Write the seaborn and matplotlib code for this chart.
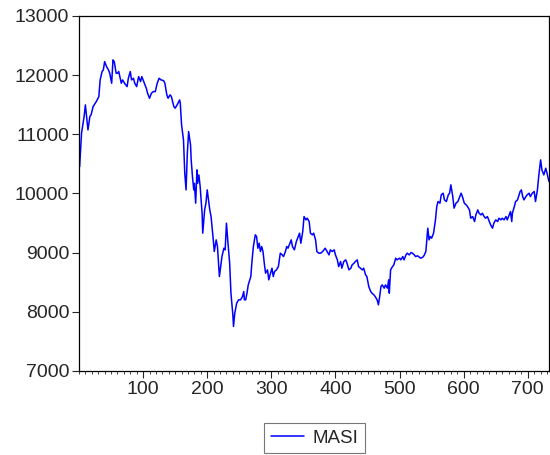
import numpy as np
import pandas as pd
import matplotlib
matplotlib.use("Agg")
import matplotlib.pyplot as plt
from matplotlib.ticker import MultipleLocator
import seaborn as sns

# Observation numbers and MASI index levels
obs = [1, 4, 8, 10, 14, 17, 19, 22, 27, 31, 33, 36, 38, 40, 43, 46, 48, 51, 53, 55,
       58, 60, 62, 66, 68, 71, 75, 77, 80, 82, 85, 87, 90, 93, 96, 98, 102, 105, 107, 110,
       113, 116, 119, 122, 125, 128, 132, 134, 137, 139, 142, 144, 148, 150, 153, 157, 158, 160, 163, 165,
       167, 169, 171, 174, 175, 177, 179, 180, 182, 184, 185, 187, 189, 192, 193, 196, 198, 200, 202, 204,
       206, 209, 211, 214, 216, 219, 221, 223, 226, 228, 230, 232, 235, 237, 240, 241, 243, 246, 249, 252,
       255, 257, 258, 260, 262, 264, 268, 270, 272, 275, 277, 279, 281, 283, 285, 287, 289, 291, 294, 296,
       298, 301, 303, 305, 308, 311, 314, 317, 319, 322, 324, 326, 329, 331, 333, 336, 339, 341, 344, 346,
       349, 351, 354, 356, 359, 361, 364, 366, 369, 371, 374, 377, 380, 384, 387, 390, 392, 395, 398, 400,
       403, 405, 408, 410, 413, 416, 418, 421, 424, 426, 429, 431, 434, 436, 439, 442, 444, 447, 449, 452,
       455, 457, 460, 462, 465, 467, 469, 471, 473, 476, 478, 481, 483, 484, 486, 489, 491, 494, 496, 500,
       502, 505, 507, 510, 512, 515, 518, 520, 523, 525, 528, 531, 533, 536, 538, 541, 544, 546, 548, 550,
       553, 556, 558, 560, 563, 565, 568, 570, 573, 576, 578, 580, 583, 585, 588, 591, 593, 596, 598, 601,
       604, 606, 609, 611, 614, 617, 619, 622, 624, 627, 629, 632, 634, 637, 640, 642, 645, 647, 650, 653,
       655, 658, 660, 663, 666, 668, 671, 673, 675, 676, 679, 681, 684, 688, 690, 692, 694, 697, 699, 702,
       704, 707, 710, 712, 715, 717, 720, 722, 725, 728, 730, 733]
masi = [10450, 11018, 11300, 11496, 11073, 11300, 11330, 11467, 11552, 11636, 11918, 12059, 12087, 12228, 12143, 12087, 12030, 11862, 12256, 12228,
        12030, 12030, 12060, 11862, 11918, 11862, 11805, 11946, 12059, 11918, 11946, 11862, 11805, 11974, 11890, 11974, 11862, 11777, 11693, 11608,
        11693, 11721, 11721, 11862, 11946, 11918, 11906, 11862, 11665, 11608, 11665, 11640, 11467, 11440, 11495, 11580, 11524, 11158, 10904, 10340,
        10059, 10680, 11045, 10820, 10566, 10283, 10059, 10170, 9834, 10397, 10170, 10312, 10115, 9665, 9327, 9721, 9834, 10059, 9890, 9721,
        9608, 9270, 9017, 9214, 9100, 8594, 8763, 8932, 9073, 9045, 9496, 9214, 8820, 8313, 7947, 7750, 7975, 8145, 8200, 8200,
        8256, 8340, 8200, 8200, 8312, 8453, 8594, 8876, 9101, 9299, 9270, 9073, 9157, 9017, 9101, 9017, 8820, 8651, 8707, 8538,
        8622, 8735, 8594, 8679, 8707, 8763, 8989, 8960, 8932, 9017, 9101, 9073, 9157, 9214, 9101, 9045, 9185, 9242, 9327, 9157,
        9355, 9608, 9552, 9580, 9524, 9327, 9299, 9327, 9214, 9017, 8989, 8989, 9017, 9073, 9017, 8960, 9045, 9017, 9045, 8960,
        8876, 8763, 8848, 8735, 8848, 8876, 8820, 8707, 8735, 8791, 8820, 8848, 8876, 8763, 8735, 8707, 8735, 8623, 8594, 8425,
        8340, 8312, 8284, 8256, 8200, 8116, 8256, 8425, 8453, 8397, 8453, 8397, 8538, 8313, 8707, 8763, 8791, 8904, 8876, 8904,
        8876, 8932, 8876, 8960, 8989, 8960, 9000, 8989, 8960, 8932, 8945, 8920, 8904, 8920, 8945, 9017, 9412, 9214, 9270, 9242,
        9327, 9552, 9777, 9862, 9834, 9975, 10003, 9890, 9862, 9975, 10003, 10144, 9946, 9750, 9834, 9862, 9918, 10003, 9946, 9834,
        9805, 9777, 9721, 9580, 9608, 9524, 9636, 9721, 9665, 9636, 9665, 9608, 9580, 9608, 9524, 9468, 9412, 9496, 9552, 9524,
        9580, 9552, 9580, 9552, 9608, 9552, 9636, 9693, 9524, 9665, 9777, 9862, 9890, 10031, 10059, 9946, 9890, 9946, 9975, 10003,
        9946, 10003, 10031, 9862, 10059, 10285, 10566, 10397, 10312, 10425, 10340, 10200]

y_ticks = [7000, 8000, 9000, 10000, 11000, 12000, 13000]
x_ticks = [100, 200, 300, 400, 500, 600, 700]

df = pd.DataFrame({"obs": obs, "MASI": masi})

sns.set_style("white")
plt.rcParams["font.family"] = ["Liberation Sans", "DejaVu Sans"]

fig = plt.figure(figsize=(5.5, 4.55), dpi=100)
ax = fig.add_axes([0.1436, 0.185, 0.8545, 0.780])

sns.lineplot(data=df, x="obs", y="MASI", ax=ax, color="#0000ff",
             linewidth=1.1, label="MASI")

ax.set_xlim(0, 733)
ax.set_ylim(7000, 13000)
ax.set_yticks(y_ticks)
ax.set_xticks(x_ticks)
ax.xaxis.set_minor_locator(MultipleLocator(10))
ax.set_xlabel("")
ax.set_ylabel("")

for side in ["left", "bottom", "top", "right"]:
    ax.spines[side].set_visible(True)
    ax.spines[side].set_color("black")
    ax.spines[side].set_linewidth(0.9)

ax.tick_params(axis="y", which="major", direction="out", length=5, width=0.8,
               labelsize=14, left=True, pad=2)
ax.tick_params(axis="x", which="major", direction="out", length=5, width=0.8,
               labelsize=14, bottom=True, pad=2)
ax.tick_params(axis="x", which="minor", direction="out", length=2.5, width=0.6,
               bottom=True)

leg = ax.legend(loc="lower center", bbox_to_anchor=(0.572, 0.004),
                bbox_transform=fig.transFigure, frameon=True, fancybox=False,
                fontsize=13.5, handlelength=1.8, borderpad=0.35,
                handletextpad=0.45, borderaxespad=0.0)
leg.get_frame().set_edgecolor("#555555")
leg.get_frame().set_linewidth(0.8)

fig.savefig("out.png", dpi=100)
